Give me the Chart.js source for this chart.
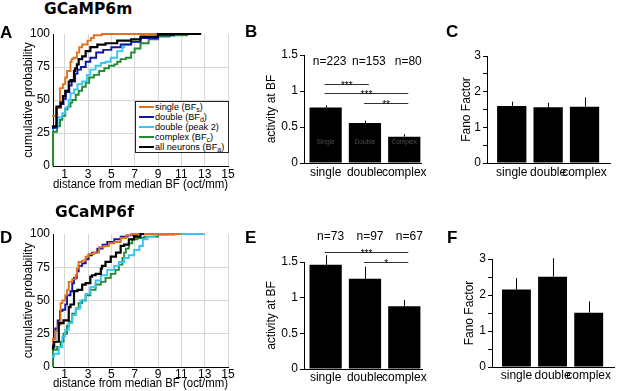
<!DOCTYPE html>
<html><head><meta charset="utf-8">
<script src="https://cdn.jsdelivr.net/npm/chart.js@4/dist/chart.umd.min.js"></script>
<style>
html,body{margin:0;padding:0;background:#fff;}
#wrap{position:relative;width:617px;height:391px;overflow:hidden;font-family:"Liberation Sans",Arial,sans-serif;}
canvas{position:absolute;}
.t{position:absolute;white-space:nowrap;color:#000;z-index:5;}
.ttl{font-family:"DejaVu Sans",Verdana,sans-serif;font-weight:bold;font-size:15.5px;line-height:15px;}
.lab{font-family:"Liberation Sans",Arial,sans-serif;font-weight:bold;font-size:17px;line-height:17px;}
#legend{position:absolute;left:135px;top:101px;width:94px;height:52px;box-sizing:border-box;border:1px solid #222;background:#fff;font-size:9.2px;z-index:5;}
#legend .row{position:absolute;left:0;height:10px;line-height:10px;white-space:nowrap;}
#legend .sw{position:absolute;left:3px;top:4px;width:15px;height:2px;}
#legend .tx{position:absolute;left:19px;top:0;}
#legend sub{font-size:7px;vertical-align:-2px;line-height:0;}
</style></head>
<body>
<div id="wrap">
  <canvas id="cA"></canvas><canvas id="cB"></canvas><canvas id="cC"></canvas>
  <canvas id="cD"></canvas><canvas id="cE"></canvas><canvas id="cF"></canvas>
  <div class="t ttl" style="left:44px;top:2px;">GCaMP6m</div>
  <div class="t ttl" style="left:55px;top:205px;">GCaMP6f</div>
  <div class="t lab" style="left:0px;top:24px;">A</div>
  <div class="t lab" style="left:245px;top:23px;">B</div>
  <div class="t lab" style="left:446px;top:23px;">C</div>
  <div class="t lab" style="left:0px;top:229px;">D</div>
  <div class="t lab" style="left:245px;top:229px;">E</div>
  <div class="t lab" style="left:447px;top:229px;">F</div>
  <div id="legend"></div>
</div>
<script>
// ---------------- data ----------------
const cdfXTicks = [1, 3, 5, 7, 9, 11, 13, 15];
const cdfYTicks = [0, 25, 50, 75, 100];
const legendNames = ['single (BF', 'double (BF', 'double (peak 2)', 'complex (BF', 'all neurons (BF'];
const legendSubs  = ['s', 'd', '', 'c', 'a'];
const seriesColors = ['#E2711D', '#1414A6', '#36C6F2', '#228B2E', '#000000'];

// GCaMP6m cumulative distributions
const m_single_x = [0,0.35,0.6,0.85,1.05,1.2,1.5,1.6,1.75,2.05,2.25,2.5,2.95,3.25,3.5,4.2,5.0,12.5];
const m_single_y = [37,38,44,59,62,67,72,79,81,82,86,90,92,95,97,99,100,100];
const m_double_x = [0,0.3,0.65,0.9,1.1,1.4,1.6,1.9,2.1,2.4,2.8,3.2,3.7,4.3,5,5.8,6.7,7.5,9,10.4,11];
const m_double_y = [28,29,44,47,51,56,61,64,70,73,75,79,82,86,88,90,92,94,97,99,100];
const m_peak2_x  = [0,0.4,0.8,1.05,1.35,1.5,1.8,2.1,2.5,2.9,3.2,3.65,4.1,4.5,4.95,5.5,5.95,6.1,6.7,7.5,9,10.5,11];
const m_peak2_y  = [27,29,37,40,44,50,55,58,62,64,69,73,76,78,79,82,87,90,92,94,97,99,100];
const m_complex_x = [0,0,0.35,0.6,0.8,1.05,1.25,1.5,1.65,1.95,2.2,2.5,2.8,3.1,3.5,3.95,4.4,4.8,5.25,5.5,5.8,6.25,6.7,7.0,7.5,8.2,9,10,11.5,12.5];
const m_complex_y = [0,25,26,30,35,38,43,45,48,50,54,57,60,63,67,69,72,74,76,77,79,81,82,86,89,93,96,98,99,100];
const m_all_x = [0,0.3,0.65,0.85,1.05,1.35,1.5,1.8,1.9,2.05,2.2,2.5,2.8,3.2,3.8,4.5,5.5,6.7,7.5,9,10.4,12.7];
const m_all_y = [29,30,45,48,53,57,64,65,72,74,77,81,83,87,90,92,93,95,96,98,100,100];

// GCaMP6f cumulative distributions
const f_single_x = [0,0.2,0.4,0.65,0.8,1.05,1.2,1.35,1.65,1.95,2.05,2.2,2.5,2.8,3.05,3.5,3.95,4.35,4.8,5.25,5.8,6.25,6.7,7.2,11];
const f_single_y = [17,21,27,32,48,50,54,58,64,66,69,74,79,80,83,85,86,90,91,93,94,97,99,100,100];
const f_double_x = [0,0.2,0.4,0.6,0.8,1.05,1.2,1.5,1.65,1.8,2.05,2.2,2.5,2.8,3.05,3.35,3.8,4.25,4.65,5.25,5.8,6.4,7.2,8];
const f_double_y = [15,21,29,35,42,43,47,54,57,63,67,72,76,78,81,84,86,89,92,94,96,98,99,100];
const f_peak2_x  = [0,0.1,0.5,0.8,1.05,1.35,1.65,1.95,2.35,2.8,3.2,3.65,4.1,4.65,5.25,5.65,6.1,6.5,6.95,7.4,7.7,8.1,8.7,9.8,13];
const f_peak2_y  = [7,8,10,15,23,28,33,39,44,50,55,60,65,69,73,76,79,82,84,88,91,96,98,99.5,100];
const f_complex_x = [0,0,0.35,0.65,0.9,1.2,1.35,1.65,1.95,2.2,2.5,2.8,3.2,3.65,4.1,4.5,4.95,5.35,5.65,5.95,6.1,6.25,6.5,6.8,7.25,7.8,9,10.4,11.1];
const f_complex_y = [0,12.6,13,15,19,25,31,34,40,44,48,50,54,58,62,64,67,70,73,77,82,86,89,93,96,97,98,99.5,100];
const f_all_x = [0,0.1,0.5,0.9,1.35,1.5,1.8,2.1,2.5,2.8,3.2,3.35,3.65,4.1,4.2,4.5,4.95,5.4,5.8,6.1,6.5,6.95,7.5,7.8];
const f_all_y = [13,15,19,33,35,45,47,57,58,62,63,68,69,70,74,76,79,83,86,91,92,96,98,100];

// bar panels
const categories = ['single', 'double', 'complex'];
const innerLabels = ['Single', 'Double', 'Complex'];
const actM = [0.77, 0.555, 0.365];
const actMErr = [0.03, 0.035, 0.035];
const nM = ['n=223', 'n=153', 'n=80'];
const sigPairsM = [[0, 1], [0, 2], [1, 2]];
const sigLevelsM = [1.10, 0.97, 0.84];
const sigStarsM = ['***', '***', '**'];
const fanoM = [1.60, 1.56, 1.58];
const fanoMErr = [0.12, 0.13, 0.26];

const actF = [1.46, 1.265, 0.88];
const actFErr = [0.135, 0.17, 0.087];
const nF = ['n=73', 'n=97', 'n=67'];
const sigPairsF = [[0, 2], [1, 2]];
const sigLevelsF = [1.64, 1.50];
const sigStarsF = ['***', '*'];
const fanoF = [2.15, 2.51, 1.51];
const fanoFErr = [0.32, 0.51, 0.31];

// ---------------- rendering ----------------
const FONT = '"Liberation Sans", Arial, sans-serif';
Chart.defaults.font.family = FONT;
Chart.defaults.font.size = 12;
Chart.defaults.color = '#000';

// legend (HTML)
const lg = document.getElementById('legend');
legendNames.forEach((nm, i) => {
  const row = document.createElement('div');
  row.className = 'row';
  row.style.top = (10 * i) + 'px';
  const sw = document.createElement('span'); sw.className = 'sw'; sw.style.background = seriesColors[i];
  const tx = document.createElement('span'); tx.className = 'tx';
  tx.innerHTML = legendSubs[i] ? nm + '<sub>' + legendSubs[i] + '</sub>)' : nm;
  row.appendChild(sw); row.appendChild(tx); lg.appendChild(row);
});

function setupCanvas(id, rect) {
  const cv = document.getElementById(id);
  cv.width = rect.W; cv.height = rect.H;
  cv.style.left = rect.L + 'px'; cv.style.top = rect.T + 'px';
  cv.style.width = rect.W + 'px'; cv.style.height = rect.H + 'px';
  return cv;
}

function cdfChart(id, rect, area, xs, ys, pads) {
  const cv = setupCanvas(id, rect);
  const drawOrder = [1, 2, 3, 4, 0];
  const datasets = xs.map((xa, k) => ({
    data: xa.map((x, i) => ({x: x, y: ys[k][i]})),
    borderColor: seriesColors[k],
    borderWidth: k === 4 ? 2.2 : 1.9,
    stepped: 'after', pointRadius: 0, fill: false, clip: 4, order: drawOrder[k]
  }));
  return new Chart(cv, {
    type: 'line',
    data: {datasets},
    options: {
      responsive: false, animation: false, devicePixelRatio: 1,
      layout: {padding: {left: 0, top: area.top - rect.T, right: rect.L + rect.W - area.right, bottom: 0}},
      plugins: {legend: {display: false}, tooltip: {enabled: false}},
      scales: {
        x: {
          type: 'linear', min: 0, max: 15,
          afterBuildTicks: s => { s.ticks = cdfXTicks.map(v => ({value: v})); },
          afterFit: s => { s.height = rect.T + rect.H - area.bottom; },
          grid: {color: '#d6d6d6', drawTicks: false},
          border: {color: '#000'},
          ticks: {padding: pads.xTick, autoSkip: false, maxRotation: 0, callback: v => String(v)},
          title: {display: true, text: 'distance from median BF (oct/mm)', padding: {top: 0, bottom: pads.xTitle}}
        },
        y: {
          min: 0, max: 100,
          afterBuildTicks: s => { s.ticks = cdfYTicks.map(v => ({value: v})); },
          afterFit: s => { s.width = area.left - rect.L; },
          grid: {drawTicks: false, color: c => (c.tick && c.tick.value === 100) ? 'rgba(0,0,0,0)' : '#d6d6d6'},
          border: {color: '#000'},
          ticks: {padding: 3, callback: v => String(v)},
          title: {display: true, text: 'cumulative probability', padding: {top: pads.yTitle, bottom: 0}}
        }
      }
    }
  });
}

function makeBarExtras(cfg) {
  return {
    id: 'barExtras',
    afterDatasetsDraw(chart) {
      const {ctx, chartArea} = chart;
      const xs = chart.scales.x, ys = chart.scales.y;
      ctx.save();
      ctx.strokeStyle = '#000'; ctx.lineWidth = 1;
      cfg.vals.forEach((v, i) => {
        const px = Math.round(xs.getPixelForValue(i + 1)) + 0.5;
        ctx.beginPath();
        ctx.moveTo(px, ys.getPixelForValue(v));
        ctx.lineTo(px, ys.getPixelForValue(v + cfg.errs[i]));
        ctx.stroke();
      });
      if (cfg.inner) {
        ctx.fillStyle = '#505050'; ctx.font = '6.5px ' + FONT;
        ctx.textAlign = 'center'; ctx.textBaseline = 'middle';
        cfg.inner.forEach((t, i) => ctx.fillText(t, xs.getPixelForValue(i + 1), ys.getPixelForValue(cfg.innerAt)));
      }
      if (cfg.n) {
        ctx.fillStyle = '#000'; ctx.font = '12px ' + FONT;
        ctx.textAlign = 'center'; ctx.textBaseline = 'middle';
        cfg.n.forEach((t, i) => ctx.fillText(t, xs.getPixelForValue(i + 1) + cfg.nDx, chartArea.top + cfg.nDy));
      }
      if (cfg.sigPairs) {
        cfg.sigPairs.forEach((p, k) => {
          const x1 = xs.getPixelForValue(p[0] + 1) - 1;
          const x2 = xs.getPixelForValue(p[1] + 1) + 4;
          const y = Math.round(ys.getPixelForValue(cfg.sigLevels[k])) + 0.5;
          ctx.strokeStyle = '#333'; ctx.lineWidth = 1;
          ctx.beginPath(); ctx.moveTo(x1, y); ctx.lineTo(x2, y); ctx.stroke();
          ctx.fillStyle = '#000'; ctx.font = '10px ' + FONT;
          ctx.textAlign = 'center'; ctx.textBaseline = 'alphabetic';
          ctx.fillText(cfg.sigStars[k], (x1 + x2) / 2, y + 4);
        });
      }
      ctx.restore();
    }
  };
}

function barChart(id, rect, area, cfg) {
  const cv = setupCanvas(id, rect);
  return new Chart(cv, {
    type: 'bar',
    data: {datasets: [{
      data: cfg.vals.map((v, i) => ({x: i + 1, y: v})),
      backgroundColor: '#000', borderWidth: 0,
      barPercentage: 1, categoryPercentage: cfg.frac
    }]},
    options: {
      responsive: false, animation: false, devicePixelRatio: 1,
      layout: {padding: {left: 0, top: area.top - rect.T, right: rect.L + rect.W - area.right, bottom: 0}},
      plugins: {legend: {display: false}, tooltip: {enabled: false}},
      scales: {
        x: {
          type: 'linear', offset: false, min: cfg.xmin, max: cfg.xmax,
          afterBuildTicks: s => { s.ticks = categories.map((c, i) => ({value: i + 1})); },
          afterFit: s => { s.height = rect.T + rect.H - area.bottom; },
          grid: {display: false, drawTicks: false, offset: false},
          border: {display: true, color: '#000'},
          ticks: {padding: cfg.xTickPad, autoSkip: false, maxRotation: 0, callback: v => categories[v - 1]}
        },
        y: {
          min: 0, max: cfg.ymax,
          ticks: {stepSize: 0.5, padding: 2,
                  callback: v => (cfg.intOnly && Math.abs(v % 1) > 1e-9) ? '' : String(v)},
          afterFit: s => { s.width = area.left - rect.L; },
          grid: {drawOnChartArea: false, drawTicks: true, tickLength: 4, color: '#000'},
          border: {color: '#000'},
          title: {display: true, text: cfg.yTitle, padding: {top: cfg.yTitlePad, bottom: 0}}
        }
      }
    },
    plugins: [makeBarExtras(cfg)]
  });
}

// Panel A
cdfChart('cA', {L: 0, T: 20, W: 240, H: 175}, {left: 53, right: 228, top: 34, bottom: 166},
  [m_single_x, m_double_x, m_peak2_x, m_complex_x, m_all_x],
  [m_single_y, m_double_y, m_peak2_y, m_complex_y, m_all_y],
  {xTick: 1.4, xTitle: 2.8, yTitle: 21});
// Panel D
cdfChart('cD', {L: 0, T: 215, W: 240, H: 176}, {left: 53, right: 228, top: 234, bottom: 367},
  [f_single_x, f_double_x, f_peak2_x, f_complex_x, f_all_x],
  [f_single_y, f_double_y, f_peak2_y, f_complex_y, f_all_y],
  {xTick: 0, xTitle: 0.5, yTitle: 21});

// Panel B
barChart('cB', {L: 240, T: 40, W: 190, H: 150}, {left: 304, right: 422, top: 55, bottom: 163}, {
  vals: actM, errs: actMErr, ymax: 1.5, intOnly: false, yTitle: 'activity at BF', yTitlePad: 24.5,
  xmin: 0.45, xmax: 3.45, frac: 0.82, xTickPad: 2.2,
  inner: innerLabels, innerAt: 0.286,
  n: nM, nDx: 4, nDy: 6.7,
  sigPairs: sigPairsM, sigLevels: sigLevelsM, sigStars: sigStarsM
});
// Panel C
barChart('cC', {L: 430, T: 40, W: 187, H: 150}, {left: 487, right: 610, top: 56, bottom: 163}, {
  vals: fanoM, errs: fanoMErr, ymax: 3, intOnly: true, yTitle: 'Fano Factor', yTitlePad: 29.5,
  xmin: 0.32, xmax: 3.70, frac: 0.805, xTickPad: 2.2
});
// Panel E
barChart('cE', {L: 240, T: 222, W: 190, H: 169}, {left: 304, right: 422, top: 262, bottom: 369}, {
  vals: actF, errs: actFErr, ymax: 1.5, intOnly: false, yTitle: 'activity at BF', yTitlePad: 24.5,
  xmin: 0.45, xmax: 3.45, frac: 0.82, xTickPad: 1.8,
  n: nF, nDx: 5, nDy: -25.3,
  sigPairs: sigPairsF, sigLevels: sigLevelsF, sigStars: sigStarsF
});
// Panel F
barChart('cF', {L: 430, T: 222, W: 187, H: 169}, {left: 492, right: 614, top: 259, bottom: 367}, {
  vals: fanoF, errs: fanoFErr, ymax: 3, intOnly: true, yTitle: 'Fano Factor', yTitlePad: 32.8,
  xmin: 0.324, xmax: 3.70, frac: 0.8, xTickPad: 1.5
});
</script>
</body></html>
